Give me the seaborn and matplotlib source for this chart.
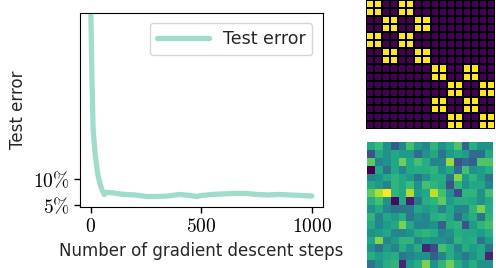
import numpy as np
import pandas as pd
import matplotlib
matplotlib.use("Agg")
import matplotlib.pyplot as plt
import seaborn as sns

# 1. Data
steps = [0, 5, 10, 20, 30, 40, 50, 60, 70, 100, 150, 200, 250, 300, 350, 400,
         450, 480, 500, 550, 600, 650, 700, 750, 800, 850, 900, 950, 1000]
test_error = [41.5, 28.7, 19.6, 14.4, 11.2, 9.2, 7.9, 7.0, 7.4, 7.3, 7.0, 6.9, 6.6, 6.6,
              6.7, 7.0, 6.8, 6.6, 6.8, 7.0, 7.1, 7.2, 7.2, 7.0, 6.9, 7.0, 6.9, 6.8, 6.7]
y_ticks = [5, 10]
y_tick_labels = [r"$5\%$", r"$10\%$"]
x_ticks = [0, 500, 1000]
x_tick_labels = [r"$0$", r"$500$", r"$1000$"]

# block-structured target matrix (1 = yellow)
on_cols_a = [0, 1, 4, 5]
on_cols_b = [2, 3, 6, 7]
target = np.zeros((16, 16))
for r in range(8):
    cols = on_cols_a if (r // 2) % 2 == 0 else on_cols_b
    target[r, cols] = 1
    target[r + 8, [c + 8 for c in cols]] = 1

# learned matrix, colour levels estimated cell by cell
learned = np.array([
    [.60, .68, .50, .28, .45, .70, .55, .45, .65, .50, .60, .72, .32, .62, .50, .50],
    [.25, .60, .50, .60, .55, .55, .35, .50, .60, .38, .55, .60, .55, .35, .35, .60],
    [.75, .45, .50, .60, .78, .60, .70, .62, .45, .45, .85, .25, .35, .30, .72, .72],
    [.00, .60, .38, .60, .45, .60, .62, .62, .65, .50, .60, .35, .70, .50, .55, .62],
    [.45, .50, .60, .65, .60, .55, .38, .50, .62, .62, .38, .82, .55, .65, .55, .38],
    [.60, .55, .45, .65, .60, .68, .50, .70, .65, .60, .25, .65, .50, .60, .60, .45],
    [.75, .88, 1.0, .65, .60, .88, .55, .60, .90, .70, .50, .22, .65, .65, .50, .70],
    [.62, .70, .50, .03, .60, .08, .40, .62, .65, .75, .55, .62, .62, .60, .50, .60],
    [.50, .60, .45, .38, .38, .40, .60, .55, .60, .45, .60, .45, .45, .65, .80, .62],
    [.65, .45, .60, .55, .62, .40, .50, .45, .62, .65, .60, .35, .55, .62, .38, .65],
    [.60, .45, .55, .60, .80, .60, .45, .45, .50, .30, .62, .65, .25, .55, .65, .70],
    [.50, .55, .60, .45, .45, .50, .62, .65, .62, .45, .50, .62, .60, .60, .55, .62],
    [.60, .82, .45, .55, .65, .65, .45, .55, .50, .50, .45, .65, .60, .62, .38, .55],
    [.50, .38, .55, .45, .62, .50, .62, .10, .22, .70, .62, .45, .62, .55, .60, .38],
    [.62, .55, .60, .62, .40, .45, .50, .50, .30, .45, .62, .50, .40, .50, .60, .10],
    [.38, .50, .62, .65, .10, .55, .62, .80, .50, .65, .78, .62, .50, .62, .50, .50],
])

# 2. Style
sns.set_style("ticks")
plt.rcParams["font.family"] = ["DejaVu Sans"]
plt.rcParams["mathtext.fontset"] = "cm"

fig = plt.figure(figsize=(4.96, 2.68), dpi=100)

# 3. Test error curve
ax = fig.add_axes([0.161, 0.228, 0.490, 0.724])
df = pd.DataFrame({"step": steps, "err": test_error})
sns.lineplot(data=df, x="step", y="err", ax=ax, color="#a0dccb", linewidth=3.8,
             label="Test error")
ax.set_xlim(-50, 1050)
ax.set_ylim(4.6, 42)
ax.set_xticks(x_ticks)
ax.set_xticklabels(x_tick_labels, fontsize=14)
ax.set_yticks(y_ticks)
ax.set_yticklabels(y_tick_labels, fontsize=14)
ax.set_xlabel("Number of gradient descent steps", fontsize=12)
ax.set_ylabel("Test error", fontsize=12)
for s in ax.spines.values():
    s.set_visible(True)
    s.set_color("black")
ax.tick_params(colors="black", length=4, width=1)
leg = ax.legend(loc="upper right", fontsize=12.5, handlelength=3.0, frameon=True,
                borderaxespad=0.6)

# 4. Matrices
ax1 = fig.add_axes([0.738, 0.519, 0.260, 0.481])
sns.heatmap(target, ax=ax1, cmap="viridis", cbar=False, linewidths=1.4,
            linecolor="black", square=False, xticklabels=False, yticklabels=False)

ax2 = fig.add_axes([0.740, 0.0, 0.254, 0.470])
sns.heatmap(learned, ax=ax2, cmap="viridis", cbar=False, vmin=0, vmax=1,
            xticklabels=False, yticklabels=False)

fig.savefig("out.png", dpi=100)
